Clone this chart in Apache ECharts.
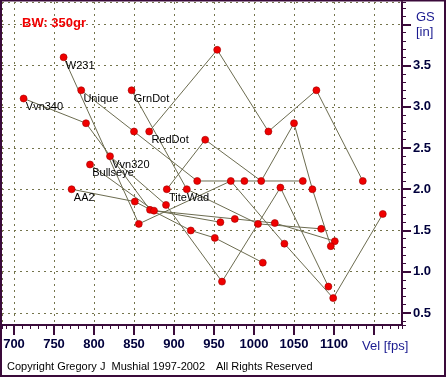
<!DOCTYPE html>
<html>
<head>
<meta charset="utf-8">
<script src="https://cdn.jsdelivr.net/npm/echarts@6/dist/echarts.min.js"></script>
<style>
  html, body { margin: 0; padding: 0; background: #fff; }
  #chart { width: 446px; height: 377px; }
</style>
</head>
<body>
<div id="chart"></div>
<script>
// powder names (label sits at the first load of each powder)
const powders = ['W231', 'Vvn340', 'Unique', 'GrnDot', 'RedDot', 'Vvn320', 'Bullseye', 'AA2', 'TiteWad'];

// velocity [fps] per load, one array per powder
const velW231     = [762, 856, 971, 1038, 1099, 1161];
const velVvn340   = [712, 790, 870, 958];
const velUnique   = [784, 850, 929, 988, 1061];
const velGrnDot   = [847, 916, 1005, 1084];
const velRedDot   = [869, 954, 1018, 1078, 1136];
const velVvn320   = [820, 890, 960, 1033, 1093];
const velBullseye = [795, 875, 976, 1026, 1101];
const velAA2      = [772, 851, 921, 951, 1011];
const velTiteWad  = [891, 939, 1009, 1050, 1073, 1096];

// group size [in] per load
const gsW231     = [3.60, 1.58, 2.10, 1.34, 0.68, 1.70];
const gsVvn340   = [3.10, 2.80, 1.75, 1.60];
const gsUnique   = [3.20, 2.70, 2.10, 2.10, 2.10];
const gsGrnDot   = [3.20, 2.00, 1.58, 1.52];
const gsRedDot   = [2.70, 3.69, 2.70, 3.20, 2.10];
const gsVvn320   = [2.40, 1.81, 0.88, 2.02, 0.82];
const gsBullseye = [2.30, 1.74, 1.64, 1.59, 1.37];
const gsAA2      = [2.00, 1.85, 1.50, 1.41, 1.11];
const gsTiteWad  = [2.00, 2.60, 2.10, 2.80, 2.00, 1.31];

const velData = [velW231, velVvn340, velUnique, velGrnDot, velRedDot, velVvn320, velBullseye, velAA2, velTiteWad];
const gsData  = [gsW231, gsVvn340, gsUnique, gsGrnDot, gsRedDot, gsVvn320, gsBullseye, gsAA2, gsTiteWad];

const xLabels = [700, 750, 800, 850, 900, 950, 1000, 1050, 1100];
const yLabels = [0.5, 1.0, 1.5, 2.0, 2.5, 3.0, 3.5];

const chart = echarts.init(document.getElementById('chart'), null, { renderer: 'canvas' });

const font = 'Liberation Sans, Arial, sans-serif';
const gridColor = '#74744c';
const axisColor = '#3a0a3a';
const labelColor = '#00003c';

const lineSeries = powders.map((name, i) => ({
  name: name,
  type: 'line',
  showSymbol: false,
  silent: true,
  z: 2,
  lineStyle: { color: '#6c6c50', width: 1 },
  data: velData[i].map((v, j) => [v, gsData[i][j]])
}));

const pointSeries = {
  type: 'scatter',
  z: 5,
  symbolSize: 7,
  itemStyle: { color: '#f00000', borderColor: '#a00000', borderWidth: 0.6, opacity: 1 },
  data: [].concat(...powders.map((name, i) => velData[i].map((v, j) => ({
    value: [v, gsData[i][j]],
    label: j === 0 ? {
      show: true, formatter: name, position: [6, 7], align: 'left', verticalAlign: 'top',
      color: '#000', fontSize: 11, fontFamily: font
    } : { show: false }
  }))))
};

chart.setOption({
  animation: false,
  backgroundColor: '#fff',
  grid: { left: 2, right: 44, top: 2, bottom: 52, containLabel: false },
  title: {
    text: 'BW: 350gr', left: 22, top: 17, padding: 0,
    textStyle: { color: '#f00000', fontSize: 13, fontWeight: 'bold', fontFamily: font }
  },
  graphic: [
    { type: 'rect', shape: { x: 1, y: 0.5, width: 444, height: 375.5 }, style: { fill: 'none', stroke: axisColor, lineWidth: 2 }, z: 100 },
    { type: 'text', left: 416, top: 10, style: { text: 'GS\n[in]', fill: '#1a1a90', font: '13px ' + font, lineHeight: 15, align: 'left' } },
    { type: 'text', left: 362, top: 340, style: { text: 'Vel [fps]', fill: '#1a1a90', font: '13px ' + font } },
    { type: 'text', left: 7, top: 361, style: { text: 'Copyright Gregory J  Mushial 1997-2002', fill: '#000', font: '11px ' + font } },
    { type: 'text', left: 216, top: 361, style: { text: 'All Rights Reserved', fill: '#000', font: '11px ' + font } }
  ],
  xAxis: [
    {
      type: 'value', position: 'bottom', min: 685, max: 1185,
      minInterval: 50, maxInterval: 50,
      axisLine: { show: true, onZero: false, lineStyle: { color: axisColor, width: 2 } },
      axisTick: { show: true, length: 10, lineStyle: { color: axisColor, width: 2 } },
      axisLabel: {
        show: true, margin: 13, color: labelColor, fontWeight: 'bold', fontSize: 13, fontFamily: font,
        showMinLabel: false, showMaxLabel: false,
        formatter: v => xLabels.includes(v) ? String(v) : ''
      },
      splitLine: { show: true, lineStyle: { color: gridColor, type: [2, 4], width: 1 } }
    },
    {
      type: 'value', position: 'bottom', min: 685, max: 1185,
      minInterval: 10, maxInterval: 10,
      axisLine: { show: false, onZero: false },
      axisTick: { show: true, length: 4, lineStyle: { color: axisColor, width: 1 } },
      axisLabel: { show: false },
      splitLine: { show: false }
    }
  ],
  yAxis: [
    {
      type: 'value', position: 'right', min: 0.354, max: 4.27,
      minInterval: 0.5, maxInterval: 0.5,
      axisLine: { show: true, onZero: false, lineStyle: { color: axisColor, width: 2 } },
      axisTick: { show: true, length: 9, lineStyle: { color: axisColor, width: 2 } },
      axisLabel: {
        show: true, margin: 11, color: labelColor, fontWeight: 'bold', fontSize: 13, fontFamily: font,
        showMinLabel: false, showMaxLabel: false,
        formatter: v => yLabels.includes(v) ? v.toFixed(1) : ''
      },
      splitLine: { show: true, lineStyle: { color: gridColor, type: [2, 4], width: 1 } }
    },
    {
      type: 'value', position: 'right', min: 0.354, max: 4.27,
      minInterval: 0.1, maxInterval: 0.1,
      axisLine: { show: false, onZero: false },
      axisTick: { show: true, length: 4, lineStyle: { color: axisColor, width: 1 } },
      axisLabel: { show: false },
      splitLine: { show: false }
    }
  ],
  series: lineSeries.concat([pointSeries])
});
</script>
</body>
</html>
